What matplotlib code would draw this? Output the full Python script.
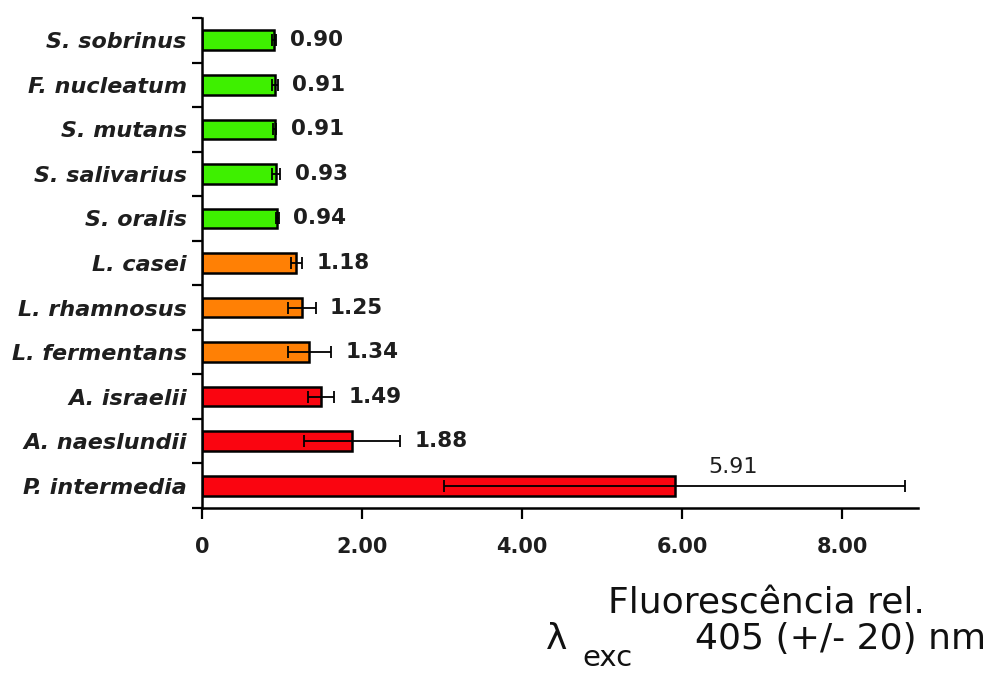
import matplotlib
matplotlib.use("Agg")
import matplotlib.pyplot as plt
import numpy as np

# Species, top to bottom
species = ["S. sobrinus", "F. nucleatum", "S. mutans", "S. salivarius", "S. oralis",
           "L. casei", "L. rhamnosus", "L. fermentans",
           "A. israelii", "A. naeslundii", "P. intermedia"]
values = [0.90, 0.91, 0.91, 0.93, 0.94, 1.18, 1.25, 1.34, 1.49, 1.88, 5.91]
errors = [0.02, 0.04, 0.02, 0.05, 0.02, 0.07, 0.17, 0.27, 0.16, 0.60, 2.88]
groups = ["low"] * 5 + ["mid"] * 3 + ["high"] * 3
group_colors = {"low": "#3ef000", "mid": "#ff8005", "high": "#fa0510"}
xticks = [0, 2, 4, 6, 8]
xtick_labels = ["0", "2.00", "4.00", "6.00", "8.00"]

plt.rcParams["font.family"] = ["DejaVu Sans"]
ink = "#1e1e1e"

fig = plt.figure(figsize=(9.91, 6.75), dpi=100)
ax = fig.add_axes([202 / 991, 1 - 508 / 675, (918 - 202) / 991, (508 - 18) / 675])

n = len(species)
ypos = np.arange(n)
colors = [group_colors[g] for g in groups]

ax.barh(ypos, values, height=0.44, color=colors, edgecolor="black", linewidth=1.8, zorder=2)
ax.errorbar(values, ypos, xerr=errors, fmt="none", ecolor="black", elinewidth=1.3,
            capsize=4, capthick=1.3, zorder=3)

ax.set_xlim(0, 8.95)
ax.set_ylim(n - 0.5, -0.5)

# Value labels next to each bar
for i, (v, e) in enumerate(zip(values, errors)):
    if i == n - 1:
        ax.text(v + 0.73, i - 0.42, f"{v:.2f}", ha="center", va="center",
                fontsize=16, color=ink)
    else:
        ax.text(v + e + 0.18, i, f"{v:.2f}", ha="left", va="center",
                fontsize=15.5, fontweight="bold", color=ink)

# Axis styling
for side in ("top", "right"):
    ax.spines[side].set_visible(False)
for side in ("left", "bottom"):
    ax.spines[side].set_linewidth(1.8)

ax.set_yticks(ypos)
ax.set_yticklabels(species, fontsize=16, fontweight="bold", fontstyle="italic", color=ink)
ax.set_yticks(np.arange(-0.5, n, 1.0), minor=True)
ax.tick_params(axis="y", which="major", length=0, pad=11)
ax.tick_params(axis="y", which="minor", length=7, width=1.6, direction="out")

ax.set_xticks(xticks)
ax.set_xticklabels(xtick_labels, fontsize=15, fontweight="bold", color=ink)
ax.tick_params(axis="x", which="major", length=8, width=1.6, direction="out", pad=13)

# Axis title
fig.text(766 / 991, 1 - 614 / 675, "Fluorescência rel.", ha="center", va="baseline",
         fontsize=26, color="#111111")
fig.text(546 / 991, 1 - 649 / 675, "λ", ha="left", va="baseline",
         fontsize=26, color="#111111")
fig.text(582 / 991, 1 - 666 / 675, "exc", ha="left", va="baseline",
         fontsize=21, color="#111111")
fig.text(986 / 991, 1 - 649 / 675, "405 (+/- 20) nm", ha="right", va="baseline",
         fontsize=26, color="#111111")

fig.savefig("out.png", dpi=100, facecolor="white")
